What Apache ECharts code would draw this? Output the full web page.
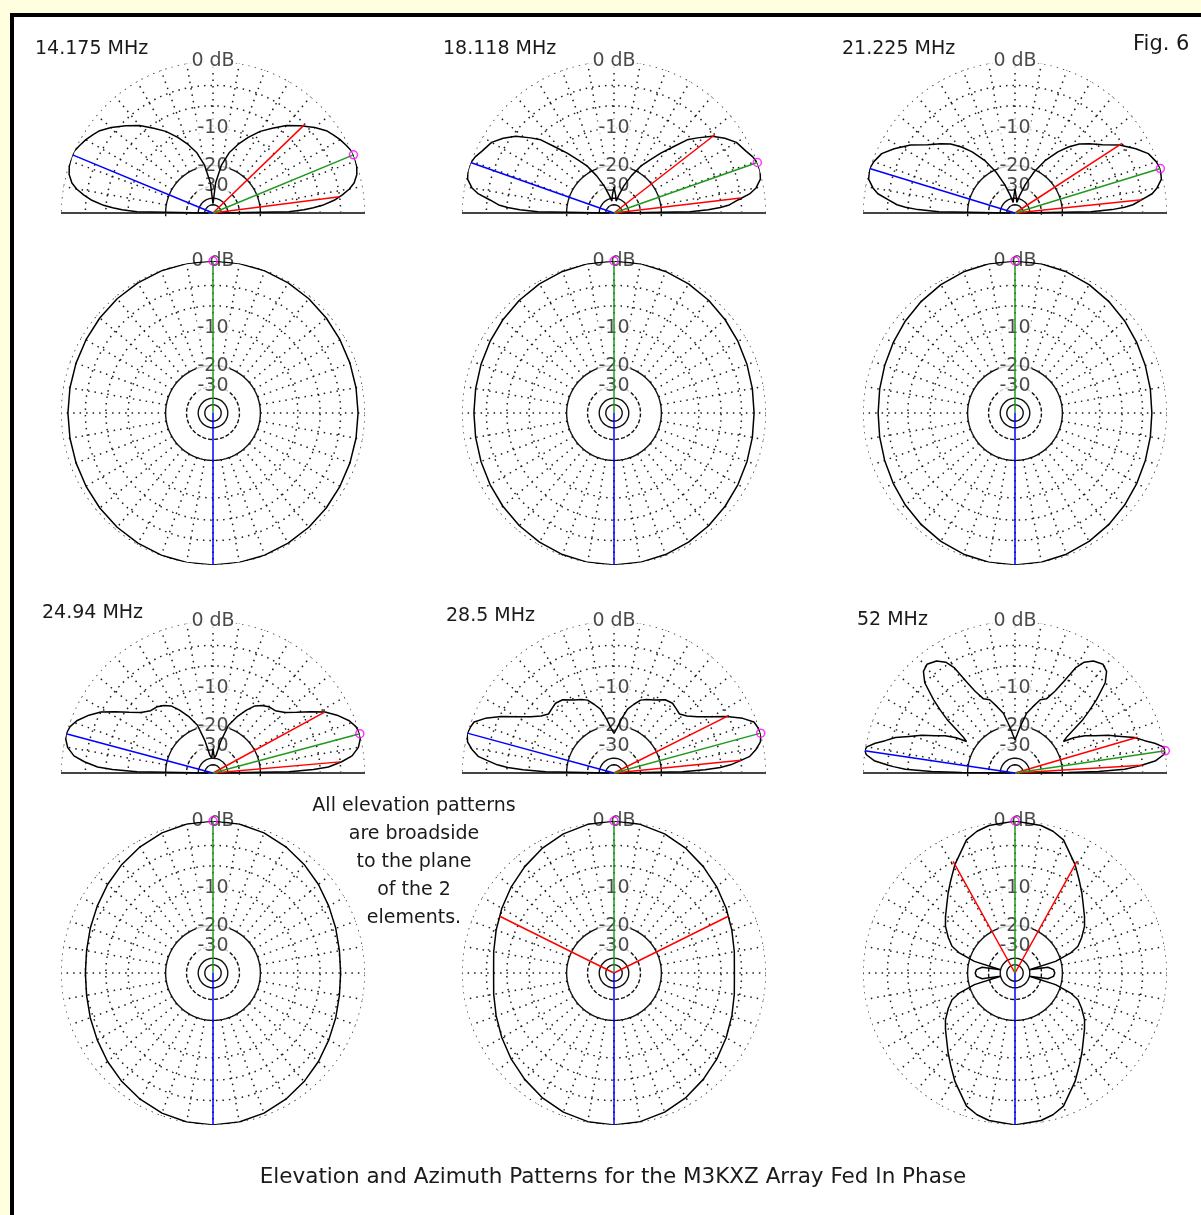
<!DOCTYPE html>
<html><head><meta charset="utf-8">
<script src="https://cdn.jsdelivr.net/npm/echarts/dist/echarts.min.js"></script>
<style>html,body{margin:0;padding:0;background:#FFFFE0;}#c{width:1201px;height:1215px;}</style>
</head><body><div id="c"></div>
<script>
// ---------------- DATA ----------------
const panelFreqs = ['14.175 MHz', '18.118 MHz', '21.225 MHz', '24.94 MHz', '28.5 MHz', '52 MHz'];

// Elevation patterns: elevation angle (deg, 0..90, symmetric about zenith) and gain (dB)
const elevAng14 = [0, 1, 2, 3, 4, 6, 8, 10, 12, 15, 18, 21, 24, 27, 30, 33, 36, 40, 45, 50, 55, 60, 65, 70, 75, 80, 85, 90];
const elevDb14  = [-60, -11.9, -8.8, -7.1, -5.6, -3.8, -2.6, -1.6, -0.9, -0.35, -0.1, 0, 0, -0.3, -0.6, -1.0, -1.4, -2.3, -3.6, -4.9, -6.6, -8.2, -10.3, -12.6, -15.3, -19.6, -27.6, -48];

const elevAng18 = [0, 1, 2, 3, 4, 6, 8, 10, 13, 16, 19, 22, 25, 30, 34, 38, 42, 45, 48, 52, 56, 60, 65, 70, 75, 80, 85, 90];
const elevDb18  = [-60, -11.9, -8.2, -6.1, -4.7, -3.4, -1.8, -0.9, -0.2, 0, 0, -0.26, -0.7, -1.25, -2.2, -3.4, -5.2, -6.6, -9.1, -11.9, -14.9, -17.5, -22.5, -28.5, -36.4, -43.4, -36.4, -30.4];

const elevAng21 = [0, 1, 2, 3, 4, 6, 8, 10, 13, 17, 20, 24, 28, 33, 38, 43, 47, 51, 55, 60, 65, 70, 75, 80, 85, 90];
const elevDb21  = [-60, -11.9, -7.7, -5.6, -4.3, -3.0, -1.6, -0.9, -0.2, 0, -0.2, -0.7, -1.8, -3.4, -5.4, -6.9, -8.2, -10.0, -12.2, -15.7, -20.7, -27.6, -36.4, -45.6, -39.5, -31.5];

const elevAng24 = [0, 1, 2, 3, 5, 7, 10, 13, 15, 18, 21, 25, 28.6, 32, 36, 40, 45, 50, 54, 58, 62, 67, 72, 76, 80, 85, 90];
const elevDb24  = [-60, -11.9, -7.1, -4.7, -2.8, -1.4, -0.5, -0.1, 0, -0.2, -0.7, -1.8, -3.0, -4.7, -6.6, -8.2, -9.35, -9.65, -10.3, -11.2, -13.0, -15.7, -19.0, -26.0, -36.4, -39.5, -31.5];

const elevAng28 = [0, 1, 2, 3, 4, 5.7, 7, 9.3, 12, 15, 18, 20, 23, 26.6, 30, 34, 38, 42, 46, 50, 55, 61, 66, 70, 74, 78, 82, 86, 90];
const elevDb28  = [-60, -13.7, -8.8, -6.1, -4.5, -3.0, -1.8, -0.97, -0.26, 0, -0.17, -0.35, -1.43, -3.2, -5.2, -7.1, -8.5, -9.35, -9.1, -8.8, -9.1, -10.3, -10.9, -11.55, -13.0, -14.5, -17.5, -20.7, -23.1];

const elevAng52 = [0, 0.5, 1, 2, 3, 3.5, 5, 7, 8.5, 10, 12, 14, 16.5, 19, 22, 25, 28, 31, 33, 35, 38, 40, 42, 45, 48, 51, 55, 58, 60, 62, 64, 67, 71, 75, 79, 84, 87, 90];
const elevDb52  = [-60, -18.0, -10.3, -5.6, -3.8, -3.1, -1.25, -0.26, 0, -0.17, -1.06, -2.2, -3.4, -5.2, -7.1, -9.35, -11.2, -13.7, -16.6, -14.9, -9.95, -7.7, -5.6, -3.0, -1.8, -1.43, -1.81, -2.6, -3.8, -6.6, -8.8, -10.9, -11.55, -13.7, -15.7, -20.7, -23.8, -26.0];

// Azimuth patterns: azimuth from front (deg, 0..90, symmetric) and gain (dB)
const azAng   = [0, 10, 20, 30, 40, 50, 60, 70, 80, 90];
const azDb14  = [0, -0.02, -0.08, -0.2, -0.33, -0.48, -0.62, -0.72, -0.78, -0.8];
const azDb18  = [0, -0.04, -0.15, -0.33, -0.55, -0.8, -1.03, -1.22, -1.35, -1.4];
const azDb21  = [0, -0.05, -0.2, -0.43, -0.72, -1.03, -1.33, -1.57, -1.73, -1.8];
const azDb24  = [0, -0.08, -0.33, -0.72, -1.2, -1.7, -2.2, -2.6, -2.9, -3.0];
const azDb28  = [0, -0.12, -0.45, -0.95, -1.55, -2.15, -2.75, -3.3, -3.75, -4.0];
const azAng52 = [0, 10, 15, 20, 29, 35, 40, 45, 51, 56, 62, 67, 70, 74, 77, 80, 85, 90];
const azDb52  = [0, -0.25, -0.6, -1.2, -3.5, -5.2, -6.5, -7.8, -9.1, -10.2, -12, -13.7, -16, -22, -40, -26, -23.5, -23];

// Marker lines: peak elevation, -3 dB elevations, azimuth -3 dB angle (null = none)
const elevPeak     = [22.5, 19.4, 17, 15, 15.2, 8.4];
const elevHalfLow  = [7.3, 6.8, 6, 5, 5.7, 3.5];
const elevHalfHigh = [44, 37.8, 33, 28.6, 26.6, 16.3];
const azHalf       = [null, null, null, null, 63.6, 29];

// Grid rings (dB) and labels
const ringDotted = [0, -3, -6, -10];
const ringSolid  = [-20, -40, -50];
const ringDashed = [-30];
const ringLabelDb   = [0, -10, -20, -30];
const ringLabelText = ['0 dB', '-10', '-20', '-30'];

const noteLines = ['All elevation patterns', 'are broadside', 'to the plane', 'of the 2', 'elements.'];
const titleText = 'Elevation and Azimuth Patterns for the M3KXZ Array Fed In Phase';
const figText = 'Fig. 6';

const elevSets = [[elevAng14, elevDb14], [elevAng18, elevDb18], [elevAng21, elevDb21], [elevAng24, elevDb24], [elevAng28, elevDb28], [elevAng52, elevDb52]];
const azSets = [[azAng, azDb14], [azAng, azDb18], [azAng, azDb21], [azAng, azDb24], [azAng, azDb28], [azAng52, azDb52]];

// ---------------- LAYOUT ----------------
const colX = [213, 614, 1015];
const elevY = [213, 773];
const azY = [413, 973];
const RADIUS = 152;
const freqPos = [[35, 49], [443, 49], [842, 49], [42, 613], [446, 616], [857, 620]];
const FONT = '"DejaVu Sans", Verdana, sans-serif';

// ARRL log scale: radius = 0.89^(|dB|/2)
const dbToR = db => Math.pow(0.89, -Math.max(db, -60) / 2);

function elevCurve(ang, db) {
  const pts = ang.map((a, i) => [dbToR(db[i]), a]);
  for (let i = ang.length - 2; i >= 0; i--) pts.push([dbToR(db[i]), 180 - ang[i]]);
  return pts;
}
function azCurve(ang, db) {
  const pts = [];
  ang.forEach((a, i) => pts.push([dbToR(db[i]), a]));
  for (let i = ang.length - 2; i >= 0; i--) pts.push([dbToR(db[i]), 180 - ang[i]]);
  for (let i = 1; i < ang.length; i++) pts.push([dbToR(db[i]), 180 + ang[i]]);
  for (let i = ang.length - 2; i >= 0; i--) pts.push([dbToR(db[i]), 360 - ang[i]]);
  return pts;
}
function rings(dbs, a0, a1, step) {
  const pts = [];
  dbs.forEach(d => {
    const r = dbToR(d);
    for (let a = a0; a <= a1 + 1e-9; a += step) pts.push([r, a]);
    pts.push(['-', '-']);
  });
  return pts;
}
function spokes(a0, a1, step, rIn) {
  const pts = [];
  for (let a = a0; a <= a1; a += step) { pts.push([rIn, a], [1, a], ['-', '-']); }
  return pts;
}

const polar = [], angleAxis = [], radiusAxis = [], series = [];
function line(pi, data, lineStyle, z) {
  series.push({ type: 'line', coordinateSystem: 'polar', polarIndex: pi, data, symbol: 'none', showSymbol: false,
    silent: true, clip: false, animation: false, connectNulls: false, z, lineStyle });
}
const DOT = { color: '#1a1a1a', width: 1.5, type: [1.5, 5] };
const SOLID = { color: '#111', width: 1.4 };
const DASH = { color: '#111', width: 1.4, type: [4, 2] };
const PAT = { color: '#000', width: 1.5 };
const GREEN = '#1f9a1f', RED = '#ff0000', BLUE = '#0000ff', MAG = '#ff00ff';

function labels(pi, angle) {
  series.push({ type: 'scatter', coordinateSystem: 'polar', polarIndex: pi, symbolSize: 0, silent: true, animation: false, z: 3,
    data: ringLabelDb.map((d, i) => ({ name: ringLabelText[i], value: [dbToR(d), angle] })),
    label: { show: true, position: 'inside', formatter: '{b}', fontFamily: FONT, fontSize: 19,
      color: '#1a1a1a', backgroundColor: '#fff', padding: [0, 1] } });
}
function marker(pi, angle) {
  series.push({ type: 'scatter', coordinateSystem: 'polar', polarIndex: pi, symbol: 'circle', symbolSize: 8, silent: true, animation: false, z: 6,
    data: [[1, angle]], itemStyle: { color: 'rgba(0,0,0,0)', borderColor: MAG, borderWidth: 1.5 } });
}

for (let p = 0; p < 6; p++) {
  const col = p % 3, row = Math.floor(p / 3);
  // ---- elevation (half polar) ----
  const ie = polar.length;
  polar.push({ center: [colX[col], elevY[row]], radius: RADIUS });
  angleAxis.push({ polarIndex: ie, type: 'value', min: 0, max: 360, startAngle: 0, clockwise: false, show: false });
  radiusAxis.push({ polarIndex: ie, type: 'value', min: 0, max: 1, show: false });
  line(ie, rings(ringDotted, 0, 180, 1).concat(spokes(10, 170, 10, dbToR(-20))), DOT, 1);
  line(ie, rings(ringSolid, -4, 184, 2), SOLID, 1);
  line(ie, rings(ringDashed, -4, 184, 2), DASH, 1);
  line(ie, [[1.015, 0], [0, 0], [1.015, 180]], { color: '#444', width: 2.2 }, 2);
  labels(ie, 90);
  line(ie, elevCurve(elevSets[p][0], elevSets[p][1]), PAT, 4);
  line(ie, [[0, 0], [dbToR(-3), elevHalfLow[p]]], { color: RED, width: 1.5 }, 5);
  line(ie, [[0, 0], [dbToR(-3), elevHalfHigh[p]]], { color: RED, width: 1.5 }, 5);
  line(ie, [[0, 0], [1, elevPeak[p]]], { color: GREEN, width: 1.5 }, 5);
  line(ie, [[0, 0], [1, 180 - elevPeak[p]]], { color: BLUE, width: 1.5 }, 5);
  marker(ie, elevPeak[p]);

  // ---- azimuth (full polar) ----
  const ia = polar.length;
  polar.push({ center: [colX[col], azY[row]], radius: RADIUS });
  angleAxis.push({ polarIndex: ia, type: 'value', min: 0, max: 360, startAngle: 90, clockwise: true, show: false });
  radiusAxis.push({ polarIndex: ia, type: 'value', min: 0, max: 1, show: false });
  line(ia, rings(ringDotted, 0, 360, 1).concat(spokes(0, 350, 10, dbToR(-20))), DOT, 1);
  line(ia, rings(ringSolid, 0, 360, 2), SOLID, 1);
  line(ia, rings(ringDashed, 0, 360, 2), DASH, 1);
  labels(ia, 0);
  line(ia, azCurve(azSets[p][0], azSets[p][1]), PAT, 4);
  if (azHalf[p] !== null) {
    line(ia, [[dbToR(-3), 360 - azHalf[p]], [0, 0], [dbToR(-3), azHalf[p]]], { color: RED, width: 1.5 }, 5);
  }
  line(ia, [[0, 0], [1, 0]], { color: GREEN, width: 1.5 }, 5);
  line(ia, [[0, 0], [1, 180]], { color: BLUE, width: 1.5 }, 5);
  marker(ia, 0);
}

const graphic = [
  { type: 'rect', z: -10, silent: true, shape: { x: 12, y: 15, width: 1200, height: 1220 }, style: { fill: '#fff', stroke: '#000', lineWidth: 4 } },
  { type: 'text', z: 10, x: 1133, y: 45, style: { text: figText, font: '21px ' + FONT, fill: '#1a1a1a', textVerticalAlign: 'middle' } },
  { type: 'text', z: 10, x: 613, y: 1177, style: { text: titleText, font: '21.5px ' + FONT, fill: '#1a1a1a', textAlign: 'center', textVerticalAlign: 'middle' } }
];
panelFreqs.forEach((t, i) => graphic.push({ type: 'text', z: 10, x: freqPos[i][0], y: freqPos[i][1],
  style: { text: t, font: '19px ' + FONT, fill: '#1a1a1a', textVerticalAlign: 'middle' } }));
noteLines.forEach((t, i) => graphic.push({ type: 'text', z: 10, x: 414, y: 806 + i * 28,
  style: { text: t, font: '19px ' + FONT, fill: '#1a1a1a', textAlign: 'center', textVerticalAlign: 'middle' } }));

const chart = echarts.init(document.getElementById('c'), null, { renderer: 'canvas' });
chart.setOption({ animation: false, backgroundColor: 'transparent', polar, angleAxis, radiusAxis, series, graphic });
</script>
</body></html>
